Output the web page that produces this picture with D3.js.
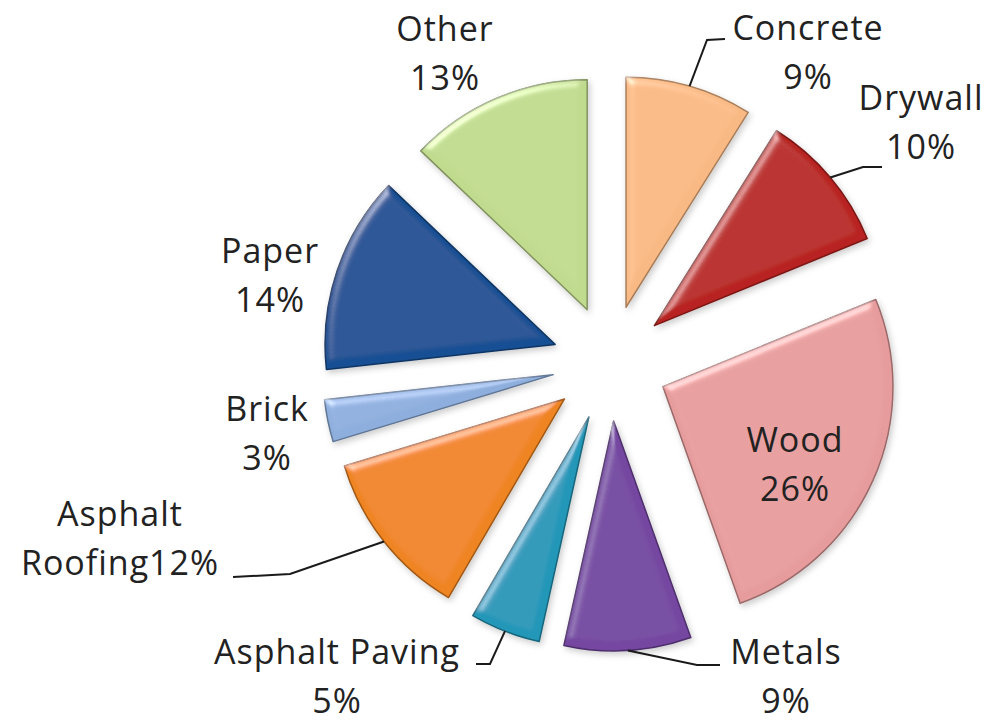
<!DOCTYPE html>
<html>
<head>
<meta charset="utf-8">
<script src="https://cdn.jsdelivr.net/npm/d3@7"></script>
<style>
  html, body { margin: 0; padding: 0; background: #ffffff; }
  svg { display: block; }
</style>
</head>
<body>
<svg id="chart" width="998" height="725"></svg>
<script>
// Construction and demolition waste composition (percent of total)
const categories = ["Concrete", "Drywall", "Wood", "Metals", "Asphalt Paving",
                    "Asphalt Roofing", "Brick", "Paper", "Other"];
const shares = [9, 10, 26, 9, 5, 12, 3, 14, 13];
const colors = ["#F8B984", "#B82420", "#E69C9C", "#7446A0", "#2497B8",
                "#EF8420", "#8EAEDD", "#184F93", "#C0DA8E"];

// Label placement: text anchor (centre x, first baseline y) and leader elbows
const labelLayout = {
  "Concrete":        { x: 808, y: 40,  lines: d => [d.name, d.pct], leader: [[707, 40], [725, 39]] },
  "Drywall":         { x: 921, y: 110, lines: d => [d.name, d.pct], leader: [[863, 167], [882, 167]] },
  "Wood":            { x: 795, y: 452, lines: d => [d.name, d.pct], leader: null },
  "Metals":          { x: 786, y: 664, lines: d => [d.name, d.pct], leader: [[697, 665], [720, 665]] },
  "Asphalt Paving":  { x: 337, y: 664, lines: d => [d.name, d.pct], leader: [[490, 664], [476, 664]] },
  "Asphalt Roofing": { x: 120, y: 526, lines: d => ["Asphalt", "Roofing" + d.pct], leader: [[290, 574], [233, 577]] },
  "Brick":           { x: 267, y: 421, lines: d => [d.name, d.pct], leader: null },
  "Paper":           { x: 270, y: 263, lines: d => [d.name, d.pct], leader: null },
  "Other":           { x: 445, y: 41,  lines: d => [d.name, d.pct], leader: null }
};

const cx = 610, cy = 363, radius = 230, explode = 58, lineGap = 49;

const svg = d3.select("#chart");
const defs = svg.append("defs");

// Soft bevel with a light drop shadow
const f = defs.append("filter").attr("id", "bevel")
  .attr("x", "-15%").attr("y", "-15%").attr("width", "130%").attr("height", "130%");
f.append("feGaussianBlur").attr("in", "SourceAlpha").attr("stdDeviation", 5).attr("result", "blur");
f.append("feSpecularLighting").attr("in", "blur").attr("surfaceScale", 4)
  .attr("specularConstant", 0.9).attr("specularExponent", 34)
  .attr("lighting-color", "#ffffff").attr("result", "spec")
  .append("feDistantLight").attr("azimuth", 235).attr("elevation", 42);
f.append("feComposite").attr("in", "spec").attr("in2", "SourceAlpha").attr("operator", "in").attr("result", "specIn");
f.append("feComposite").attr("in", "SourceGraphic").attr("in2", "specIn")
  .attr("operator", "arithmetic").attr("k1", 0).attr("k2", 1).attr("k3", 0.45).attr("k4", 0).attr("result", "lit");
f.append("feGaussianBlur").attr("in", "SourceAlpha").attr("stdDeviation", 3).attr("result", "sblur");
f.append("feOffset").attr("in", "sblur").attr("dx", 2).attr("dy", 3).attr("result", "soff");
f.append("feFlood").attr("flood-color", "#000").attr("flood-opacity", 0.2).attr("result", "sc");
f.append("feComposite").attr("in", "sc").attr("in2", "soff").attr("operator", "in").attr("result", "shadow");
const m = f.append("feMerge");
m.append("feMergeNode").attr("in", "shadow");
m.append("feMergeNode").attr("in", "lit");

const data = categories.map((name, i) => ({ name, share: shares[i], color: colors[i], pct: shares[i] + "%" }));

const pie = d3.pie().sort(null).value(d => d.share);
const arcs = pie(data);
const arc = d3.arc().innerRadius(0).outerRadius(radius);

const dir = a => [Math.sin(a), -Math.cos(a)];

const g = svg.append("g").attr("transform", `translate(${cx},${cy})`);

const slices = g.selectAll("g.slice").data(arcs).join("g")
  .attr("class", "slice")
  .attr("transform", d => {
    const [ux, uy] = dir((d.startAngle + d.endAngle) / 2);
    return `translate(${ux * explode},${uy * explode})`;
  });

slices.append("path")
  .attr("d", arc)
  .attr("fill", d => d.data.color)
  .attr("stroke", d => d3.color(d.data.color).darker(1.1))
  .attr("stroke-width", 1.5)
  .attr("stroke-linejoin", "round")
  .attr("filter", "url(#bevel)");

// Leader lines: from the middle of the outer arc through the elbow points
const leaderLine = d3.line().curve(d3.curveLinear);
arcs.forEach(d => {
  const lay = labelLayout[d.data.name];
  if (!lay.leader) return;
  const mid = (d.startAngle + d.endAngle) / 2;
  const [ux, uy] = dir(mid);
  const start = [cx + ux * (explode + radius), cy + uy * (explode + radius)];
  svg.append("path")
    .attr("d", leaderLine([start, ...lay.leader]))
    .attr("fill", "none")
    .attr("stroke", "#1a1a1a")
    .attr("stroke-width", 2);
});

// Data labels
const labels = svg.append("g")
  .attr("font-family", "'Open Sans', 'DejaVu Sans', sans-serif")
  .attr("font-size", 34)
  .attr("letter-spacing", 1)
  .attr("fill", "#222222")
  .attr("text-anchor", "middle");

data.forEach(d => {
  const lay = labelLayout[d.name];
  const t = labels.append("text").attr("x", lay.x).attr("y", lay.y);
  lay.lines(d).forEach((ln, i) => {
    t.append("tspan").attr("x", lay.x).attr("y", lay.y + i * lineGap).text(ln);
  });
});
</script>
</body>
</html>
